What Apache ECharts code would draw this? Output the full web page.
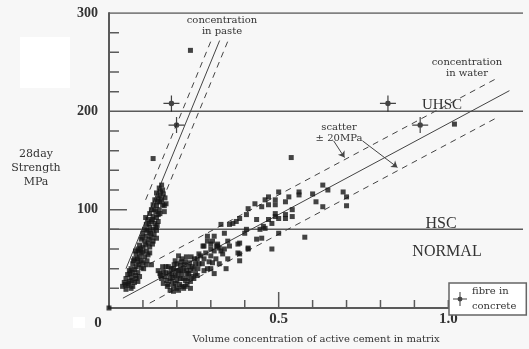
<!DOCTYPE html>
<html>
<head>
<meta charset="utf-8">
<script src="https://cdn.jsdelivr.net/npm/echarts@6/dist/echarts.min.js"></script>
<style>
html,body{margin:0;padding:0;background:#f7f7f7;}
#main{width:529px;height:349px;}
</style>
</head>
<body>
<div id="main"></div>
<script>
// strength levels (MPa)
var levels = [300, 200, 80];
var levelNames = ['UHSC', 'HSC', 'NORMAL'];

// tick values on the axes
var xMinorTicks = [0.1, 0.2, 0.3, 0.4, 0.6, 0.7, 0.8, 0.9, 1.0, 1.1];
var xMajorTicks = [0.5];
var yMinorTicks = [20, 40, 60, 80, 120, 140, 160, 180, 220, 240, 260, 280];
var yMajorTicks = [100];

// fitted lines
var pasteLine = [[0.05, 40], [0.326, 272]];
var pasteUpper = [[0.108, 110], [0.301, 272]];
var pasteLower = [[0.158, 110], [0.351, 272]];
var waterLine = [[0.041, 10], [1.18, 221]];
var waterUpper = [[0.12, 45], [1.14, 233]];
var waterLower = [[0.12, 5], [1.14, 193]];

// fibre in concrete
var fibrePoints = [[0.184, 208], [0.199, 186], [0.822, 208], [0.917, 186]];

// concentration in paste cluster
var pastePoints = [
	[0.155,125],[0.148,122],[0.152,118],[0.160,116],[0.140,117],[0.145,112],[0.135,110],[0.150,108],
	[0.158,105],[0.165,112],[0.168,106],[0.130,105],[0.140,104],[0.125,100],[0.138,98],[0.148,100],[0.163,98],
	[0.120,96],[0.130,93],[0.140,92],[0.115,90],[0.125,88],[0.135,86],[0.110,85],[0.120,82],[0.130,80],
	[0.145,88],[0.105,80],[0.140,79],[0.118,77],
	[0.100,76],[0.110,73],[0.125,72],[0.095,70],[0.105,68],[0.115,66],[0.130,68],[0.090,64],[0.100,62],
	[0.120,62],[0.140,71],[0.085,60],[0.110,58],[0.095,56],
	[0.080,55],[0.090,52],[0.105,52],[0.075,50],[0.085,47],[0.100,46],[0.070,45],[0.080,42],[0.095,41],
	[0.112,48],[0.065,40],[0.125,44],
	[0.060,38],[0.070,36],[0.085,36],[0.055,34],[0.065,31],[0.080,30],[0.050,30],[0.060,27],[0.075,26],
	[0.045,26],[0.055,23],[0.070,22],[0.040,22],[0.050,19],[0.090,32],
	[0.150,114],[0.143,108],[0.155,110],[0.133,100],[0.145,95],[0.128,90],[0.138,82],[0.112,79],[0.123,76],
	[0.133,75],[0.098,72],[0.108,64],[0.118,70],[0.128,65],[0.088,58],[0.100,57],[0.115,54],[0.083,50],
	[0.095,48],[0.072,48],[0.088,44],[0.102,40],[0.076,39],[0.062,35],[0.078,33],[0.068,28],[0.058,25],
	[0.085,27],[0.048,24],[0.065,20],[0.158,120],[0.163,104],[0.150,96],[0.142,84],[0.108,92],[0.118,86],
	[0.093,60],[0.078,58],[0.110,44],[0.120,56],
	[0.130,152],[0.240,262]
];

// concentration in water cluster
var waterPoints = [
	[0,0],
	[0.145,38],[0.150,35],[0.160,37],[0.155,30],[0.165,32],[0.170,28],[0.160,25],[0.175,24],[0.180,30],
	[0.185,27],[0.190,22],[0.185,35],[0.190,40],[0.195,33],[0.200,28],[0.205,38],[0.210,30],[0.200,45],
	[0.210,43],[0.215,35],[0.220,40],[0.225,28],[0.230,35],[0.215,50],[0.225,47],[0.235,42],[0.240,38],
	[0.245,32],[0.230,24],[0.250,40],[0.205,53],[0.195,48],[0.175,42],[0.255,35],[0.220,20],[0.200,20],
	[0.240,27],[0.260,33],[0.180,18],[0.265,45],
	[0.152,33],[0.168,36],[0.172,22],[0.178,35],[0.188,31],[0.195,25],[0.203,33],[0.208,24],[0.212,38],
	[0.218,30],[0.222,44],[0.228,38],[0.232,30],[0.238,46],[0.245,42],[0.250,30],[0.255,45],[0.262,40],
	[0.198,38],[0.183,40],[0.168,42],[0.158,42],[0.192,44],[0.212,47],[0.228,52],[0.242,52],[0.252,50],
	[0.265,55],[0.235,35],[0.215,22],[0.205,18],[0.190,17],[0.225,22],[0.240,20],
	[0.270,53],[0.280,50],[0.260,50],[0.275,45],[0.290,73],[0.290,68],[0.280,63],[0.300,65],[0.310,73],
	[0.320,63],[0.305,68],[0.300,53],[0.305,46],[0.300,40],[0.335,55],[0.350,50],[0.345,40],[0.350,68],
	[0.355,63],[0.340,60],[0.330,58],[0.325,61],[0.320,65],[0.380,65],[0.385,55],[0.410,61],[0.435,70],
	[0.450,71],[0.480,60],[0.577,72],[0.500,76],[0.330,85],[0.340,76],[0.405,80],[0.400,76],[0.470,90],
	[0.490,93],[0.490,96],[0.500,91],[0.480,86],[0.460,81],[0.445,80],[0.520,95],[0.520,91],[0.540,100],
	[0.540,93],[0.455,83],[0.435,90],[0.385,91],[0.375,88],[0.365,86],[0.355,85],[0.410,101],[0.405,95],
	[0.430,106],[0.490,110],[0.470,113],[0.460,110],[0.450,103],[0.490,105],[0.470,105],[0.520,108],
	[0.500,118],[0.530,113],[0.560,115],[0.600,116],[0.610,108],[0.630,103],[0.630,125],[0.645,120],
	[0.690,118],[0.700,113],[0.700,104],[0.537,153],[0.560,118],[0.277,63],[0.300,60],[0.317,63],
	[0.385,66],[0.410,60],[0.385,48],[0.380,56],
	[0.285,56],[0.295,47],[0.310,58],[0.315,50],[0.325,45],[0.290,40],[0.280,38],[0.310,35],
	[1.018,187]
];

// arrows from "scatter ±20MPa" to the dashed lines
var scatterArrows = [
	[[0.662, 170], [0.694, 153]],
	[[0.747, 170], [0.850, 143]]
];

var crossPath = 'path://M-0.6,-8 L0.6,-8 L0.6,8 L-0.6,8 Z M-8,-0.6 L8,-0.6 L8,0.6 L-8,0.6 Z ' +
	'M-3,0 L-2.1,-2.1 L0,-3 L2.1,-2.1 L3,0 L2.1,2.1 L0,3 L-2.1,2.1 Z';

var serif = 'Liberation Serif';
var note = 'DejaVu Serif';
var ink = '#333';
var rule = '#5a5a5a';
var XMAX = 1.22;
var PX = 1 / 340; // one pixel in x units

function lineSeries(data, dashed) {
	return {
		type: 'line',
		data: data,
		symbol: 'none',
		silent: true,
		z: 1,
		lineStyle: {color: '#444', width: 1, type: dashed ? [6, 5] : 'solid'}
	};
}

// x ticks, drawn through the axis scales
function xTickSeries(values, major) {
	return {
		type: 'custom',
		silent: true,
		clip: false,
		z: 5,
		data: values.map(function (v) { return [v, 0]; }),
		renderItem: function (params, api) {
			var p = api.coord([api.value(0), api.value(1)]);
			var len = major ? 16 : 8;
			return {
				type: 'line',
				shape: {x1: p[0], y1: p[1], x2: p[0], y2: p[1] - len},
				style: {stroke: rule, lineWidth: 1.5}
			};
		}
	};
}

// y ticks as short line segments from the axis
function yTickSeries(v, major) {
	return {
		type: 'line',
		data: [[0, v], [(major ? 18 : 10) * PX, v]],
		symbol: 'none',
		silent: true,
		z: 5,
		lineStyle: {color: rule, width: 1.5}
	};
}

var series = [];
for (var i = 0; i < levels.length; i++) {
	series.push({
		type: 'line',
		data: [[0, levels[i]], [XMAX, levels[i]]],
		symbol: 'none',
		silent: true,
		z: 1,
		lineStyle: {color: rule, width: 1.5}
	});
}
series.push(xTickSeries(xMinorTicks, false));
series.push(xTickSeries(xMajorTicks, true));
yMinorTicks.forEach(function (v) { series.push(yTickSeries(v, false)); });
yMajorTicks.forEach(function (v) { series.push(yTickSeries(v, true)); });
series.push(lineSeries(pasteLine, false));
series.push(lineSeries(pasteUpper, true));
series.push(lineSeries(pasteLower, true));
series.push(lineSeries(waterLine, false));
series.push(lineSeries(waterUpper, true));
var lower = lineSeries(waterLower, true);
lower.markLine = {
	silent: true,
	symbol: ['none', 'arrow'],
	symbolSize: 6,
	label: {show: false},
	lineStyle: {color: '#444', width: 1, type: 'solid'},
	data: scatterArrows.map(function (a) {
		return [{coord: a[0]}, {coord: a[1]}];
	})
};
series.push(lower);
series.push({
	type: 'scatter',
	data: pastePoints,
	symbol: 'rect',
	symbolSize: 5,
	itemStyle: {color: '#151515'},
	z: 3
});
series.push({
	type: 'scatter',
	data: waterPoints,
	symbol: 'rect',
	symbolSize: 5,
	itemStyle: {color: '#151515'},
	z: 3
});
series.push({
	name: 'fibre in concrete',
	type: 'scatter',
	data: fibrePoints,
	symbol: crossPath,
	symbolSize: 16,
	itemStyle: {color: '#151515'},
	z: 4
});

var chart = echarts.init(document.getElementById('main'));
chart.setOption({
	backgroundColor: '#f7f7f7',
	animation: false,
	grid: {left: 109, right: 6, top: 13, bottom: 36},
	legend: {
		left: 449,
		top: 283,
		z: 6,
		data: ['fibre in concrete'],
		icon: crossPath,
		itemWidth: 14,
		itemHeight: 16,
		padding: [1, 10, 1, 4],
		borderColor: '#666',
		borderWidth: 1.5,
		backgroundColor: '#fff',
		selectedMode: false,
		formatter: function () { return 'fibre in\nconcrete'; },
		textStyle: {fontFamily: note, fontSize: 10, lineHeight: 15, color: ink}
	},
	xAxis: {
		type: 'value',
		min: 0,
		max: XMAX,
		interval: 0.5,
		splitLine: {show: false},
		axisLine: {show: true, lineStyle: {color: rule, width: 2}},
		axisTick: {show: false},
		axisLabel: {
			margin: 4,
			fontFamily: serif,
			fontWeight: 'bold',
			fontSize: 15,
			color: ink,
			formatter: function (v) {
				if (Math.abs(v - 0.5) < 1e-6) return '0.5';
				if (Math.abs(v - 1) < 1e-6) return '1.0';
				return '';
			}
		},
		name: 'Volume concentration of active cement in matrix',
		nameLocation: 'middle',
		nameGap: 26,
		nameTextStyle: {fontFamily: note, fontSize: 10, color: ink}
	},
	yAxis: {
		type: 'value',
		min: 0,
		max: 300,
		interval: 100,
		splitLine: {show: false},
		axisLine: {show: true, lineStyle: {color: rule, width: 2}},
		axisTick: {show: false},
		axisLabel: {
			margin: 11,
			fontFamily: serif,
			fontWeight: 'bold',
			fontSize: 14,
			color: ink,
			formatter: function (v) { return v > 0 ? String(v) : ''; }
		}
	},
	graphic: [
		{type: 'rect', shape: {x: 20, y: 37, width: 50, height: 51}, style: {fill: '#fff'}, silent: true},
		{type: 'rect', shape: {x: 73, y: 317, width: 12, height: 11}, style: {fill: '#fff'}, silent: true},
		{type: 'text', x: 98, y: 323, style: {text: '0', font: 'bold 15px "Liberation Serif"', fill: ink, align: 'center', verticalAlign: 'middle'}},
		{type: 'text', x: 36, y: 168, style: {text: '28day\nStrength\nMPa', font: '11px "DejaVu Serif"', lineHeight: 14, fill: ink, align: 'center', verticalAlign: 'middle'}},
		{type: 'text', x: 442, y: 105, style: {text: levelNames[0], font: '15px "Liberation Serif"', fill: ink, align: 'center', verticalAlign: 'middle'}},
		{type: 'text', x: 441, y: 224, style: {text: levelNames[1], font: '16px "Liberation Serif"', fill: ink, align: 'center', verticalAlign: 'middle'}},
		{type: 'text', x: 447, y: 252, style: {text: levelNames[2], font: '16px "Liberation Serif"', fill: ink, align: 'center', verticalAlign: 'middle'}},
		{type: 'text', x: 222, y: 26, style: {text: 'concentration\nin paste', font: '10px "DejaVu Serif"', lineHeight: 11, fill: ink, align: 'center', verticalAlign: 'middle'}},
		{type: 'text', x: 467, y: 68, style: {text: 'concentration\nin water', font: '10px "DejaVu Serif"', lineHeight: 11, fill: ink, align: 'center', verticalAlign: 'middle'}},
		{type: 'text', x: 339, y: 133, style: {text: 'scatter\n\u00b1 20MPa', font: '10px "DejaVu Serif"', lineHeight: 11, fill: ink, align: 'center', verticalAlign: 'middle'}}
	],
	series: series
});
</script>
</body>
</html>
